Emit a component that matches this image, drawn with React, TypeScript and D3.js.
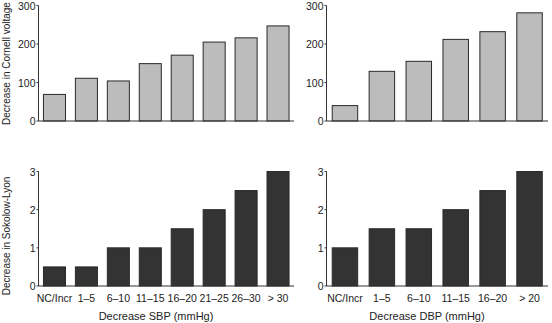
import React from "react";
import * as d3 from "d3";

const sbpCategories = ["NC/Incr", "1–5", "6–10", "11–15", "16–20", "21–25", "26–30", "> 30"];
const dbpCategories = ["NC/Incr", "1–5", "6–10", "11–15", "16–20", "> 20"];
const cornellSbp = [69, 111, 104, 149, 171, 205, 216, 247];
const cornellDbp = [40, 129, 155, 212, 232, 281];
const sokolowSbp = [0.5, 0.5, 1, 1, 1.5, 2, 2.5, 3];
const sokolowDbp = [1, 1.5, 1.5, 2, 2.5, 3];
const cornellTicks = [0, 100, 200, 300];
const sokolowTicks = [0, 1, 2, 3];

const FONT = "'Liberation Sans', Arial, Helvetica, sans-serif";

type PanelProps = {
  cats: string[];
  values: number[];
  ticks: number[];
  yMax: number;
  x0: number;
  x1: number;
  yTop: number;
  yBottom: number;
  fill: string;
  showLabels: boolean;
};

function Panel({ cats, values, ticks, yMax, x0, x1, yTop, yBottom, fill, showLabels }: PanelProps) {
  const x = d3.scaleBand<string>().domain(cats).range([x0, x1]).paddingInner(0.31).paddingOuter(0.155);
  const y = d3.scaleLinear().domain([0, yMax]).range([yBottom, yTop]);
  return (
    <g>
      {values.map((v, i) => (
        <rect
          key={i}
          x={x(cats[i])}
          y={y(v)}
          width={x.bandwidth()}
          height={y(0) - y(v)}
          fill={fill}
          stroke="#2a2a2a"
          strokeWidth={1}
        />
      ))}
      <line x1={x0} x2={x0} y1={y(yMax)} y2={y(0)} stroke="#333" strokeWidth={1} />
      <line x1={x0} x2={x1} y1={y(0)} y2={y(0)} stroke="#333" strokeWidth={1.2} />
      {ticks.map((t) => (
        <g key={t}>
          <line x1={x0 - 2} x2={x0} y1={y(t)} y2={y(t)} stroke="#333" strokeWidth={1} />
          <text
            x={x0 - 3}
            y={y(t)}
            textAnchor="end"
            dominantBaseline="central"
            fontSize={10.5}
            fontFamily={FONT}
            fill="#222"
          >
            {t}
          </text>
        </g>
      ))}
      {showLabels &&
        cats.map((c) => (
          <text
            key={c}
            x={(x(c) as number) + x.bandwidth() / 2}
            y={302}
            textAnchor="middle"
            fontSize={10.5}
            fontFamily={FONT}
            fill="#222"
          >
            {c}
          </text>
        ))}
    </g>
  );
}

export default function App() {
  return (
    <svg width={552} height={323} style={{ position: "absolute", left: 0, top: 0, background: "#fff" }}>
      <Panel cats={sbpCategories} values={cornellSbp} ticks={cornellTicks} yMax={300} x0={38.5} x1={294} yTop={5.5} yBottom={121} fill="#bcbcbc" showLabels={false} />
      <Panel cats={dbpCategories} values={cornellDbp} ticks={cornellTicks} yMax={300} x0={326.5} x1={548} yTop={5.5} yBottom={121} fill="#bcbcbc" showLabels={false} />
      <Panel cats={sbpCategories} values={sokolowSbp} ticks={sokolowTicks} yMax={3} x0={38.5} x1={294} yTop={171.5} yBottom={286} fill="#333333" showLabels={true} />
      <Panel cats={dbpCategories} values={sokolowDbp} ticks={sokolowTicks} yMax={3} x0={326.5} x1={548} yTop={171.5} yBottom={286} fill="#333333" showLabels={true} />
      <text transform="translate(9.5,63.5) rotate(-90)" textAnchor="middle" fontSize={10} fontFamily={FONT} fill="#222">
        Decrease in Cornell voltage
      </text>
      <text transform="translate(9.5,236) rotate(-90)" textAnchor="middle" fontSize={10} fontFamily={FONT} fill="#222">
        Decrease in Sokolow-Lyon
      </text>
      <text x={156} y={320} textAnchor="middle" fontSize={11} fontFamily={FONT} fill="#222">
        Decrease SBP (mmHg)
      </text>
      <text x={427} y={320} textAnchor="middle" fontSize={11} fontFamily={FONT} fill="#222">
        Decrease DBP (mmHg)
      </text>
    </svg>
  );
}
